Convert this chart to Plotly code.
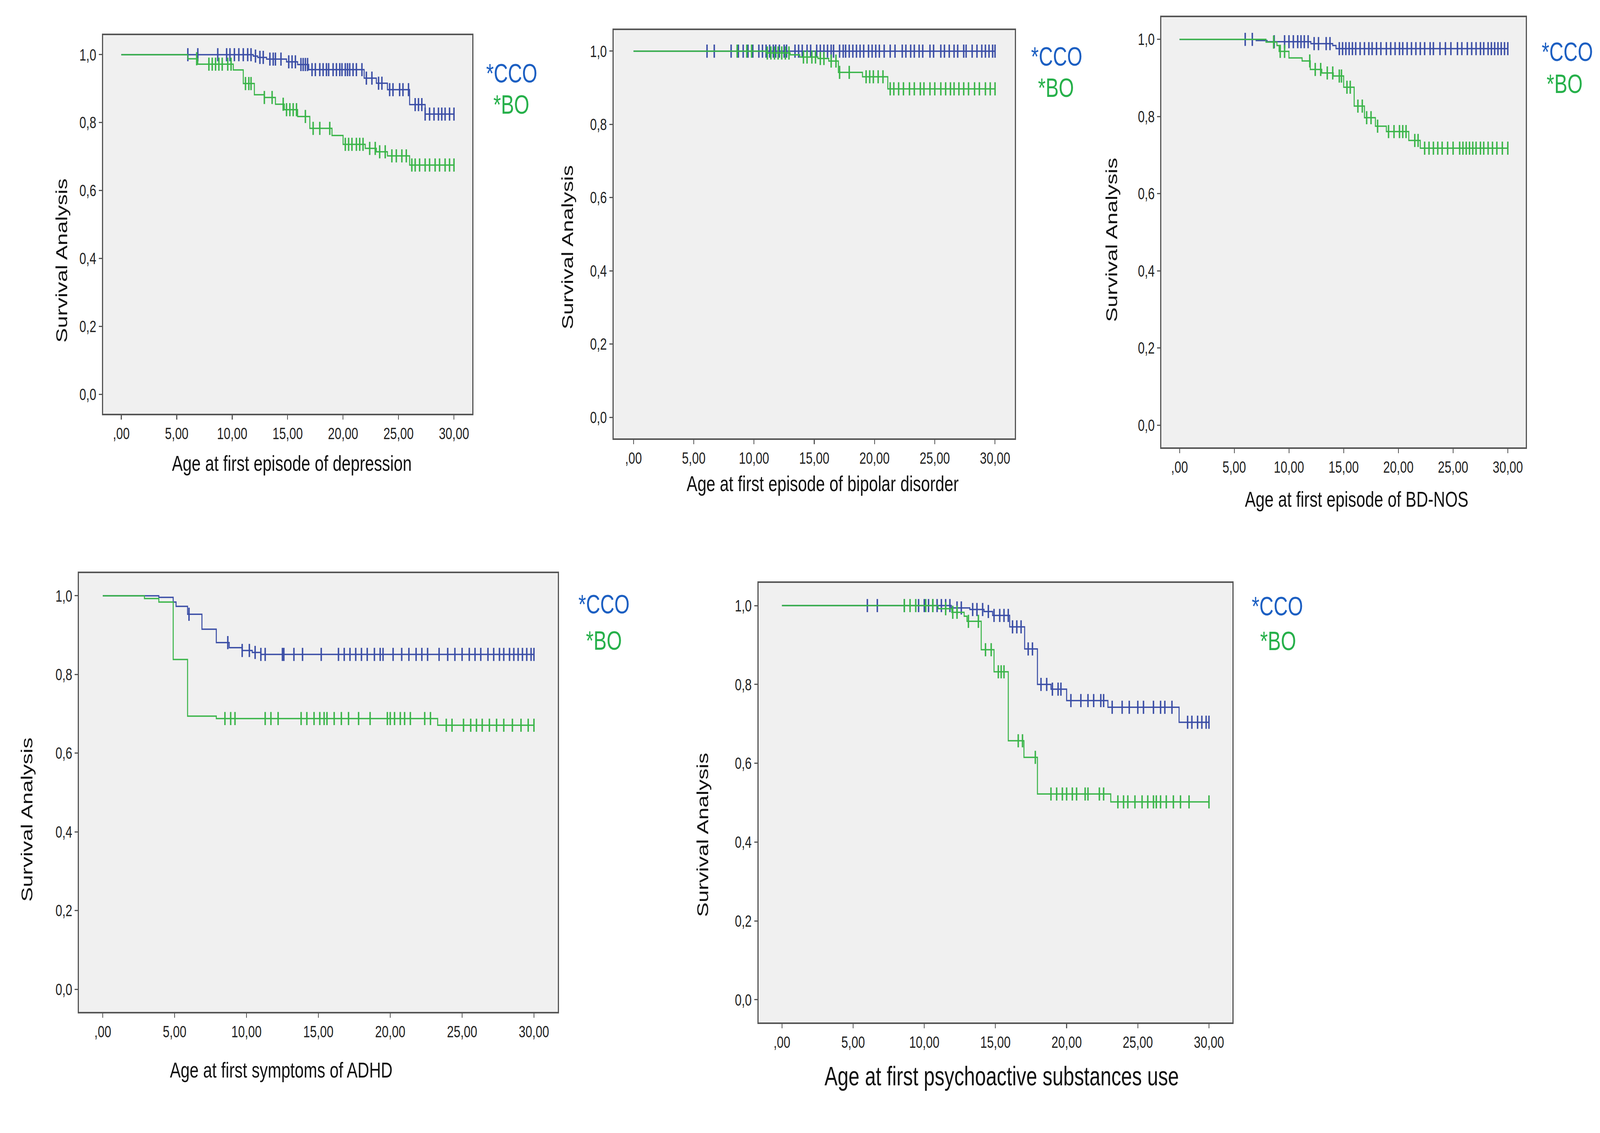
import plotly.graph_objects as go

W, H = 5546, 2900

# ---------------- DATA ----------------
x_tick_vals = [0, 5, 10, 15, 20, 25, 30]
x_tick_text = [",00", "5,00", "10,00", "15,00", "20,00", "25,00", "30,00"]
y_tick_vals = [0.0, 0.2, 0.4, 0.6, 0.8, 1.0]
y_tick_text = ["0,0", "0,2", "0,4", "0,6", "0,8", "1,0"]

x_titles = [
    "Age at first episode of depression",
    "Age at first episode of bipolar disorder",
    "Age at first episode of BD-NOS",
    "Age at first symptoms of ADHD",
    "Age at first psychoactive substances use",
]
y_title = "Survival Analysis"
group_labels = ["*CCO", "*BO"]

# Panel 1: depression
dep_cco_t = [0, 11.9, 12.3, 13.1, 14.9, 15.9, 16.9, 21.9, 23.0, 24.0, 26.0, 27.4, 30]
dep_cco_s = [1.0, 0.996, 0.992, 0.987, 0.979, 0.971, 0.956, 0.931, 0.916, 0.897, 0.853, 0.825, 0.825]
dep_cco_c = [6.0, 6.9, 8.7, 9.5, 9.8, 10.2, 10.6, 11.0, 11.4, 11.7, 12.1, 12.5, 12.8, 13.4, 13.7, 13.9,
             14.4, 15.1, 15.4, 15.7, 16.2, 16.4, 16.6, 16.8, 17.2, 17.5, 17.9, 18.2, 18.5, 18.7, 19.1,
             19.4, 19.7, 19.9, 20.2, 20.4, 20.6, 20.9, 21.2, 21.7, 22.1, 22.6, 23.2, 23.5, 24.2, 24.5,
             25.1, 25.4, 25.9, 26.5, 26.8, 27.1, 27.4, 27.8, 28.2, 28.6, 28.9, 29.2, 29.6, 30.0]
dep_bo_t = [0, 6.0, 6.9, 10.1, 11.0, 12.0, 12.9, 13.9, 14.7, 15.9, 17.0, 19.0, 20.0, 22.0, 23.0, 24.0, 26.0, 30]
dep_bo_s = [1.0, 0.988, 0.972, 0.955, 0.915, 0.882, 0.874, 0.854, 0.838, 0.818, 0.783, 0.762, 0.736,
            0.724, 0.714, 0.702, 0.675, 0.675]
dep_bo_c = [6.8, 7.9, 8.2, 8.5, 8.8, 9.1, 9.6, 9.9, 11.2, 11.5, 11.7, 12.9, 13.6, 14.6, 14.9, 15.2,
            15.5, 15.8, 16.6, 17.3, 17.9, 18.8, 20.2, 20.5, 20.8, 21.2, 21.5, 21.8, 22.4, 22.9, 23.3,
            23.8, 24.4, 24.8, 25.3, 25.7, 26.2, 26.5, 26.9, 27.4, 27.8, 28.3, 28.7, 29.2, 29.6, 30.0]

# Panel 2: bipolar disorder
bip_cco_t = [0, 30]
bip_cco_s = [1.0, 1.0]
bip_cco_c = [6.1, 6.7, 8.1, 8.7, 9.1, 9.5, 9.9, 10.4, 10.7, 11.0, 11.3, 11.6, 11.8, 12.1, 12.5, 12.7,
             13.4, 13.7, 14.0, 14.4, 14.7, 15.2, 15.5, 15.8, 16.1, 16.4, 16.6, 17.1, 17.4, 17.6, 17.9,
             18.2, 18.5, 18.8, 19.1, 19.5, 19.8, 20.1, 20.4, 20.8, 21.3, 21.7, 22.3, 22.6, 23.0, 23.3,
             23.7, 24.0, 24.6, 24.9, 25.5, 25.8, 26.2, 26.6, 26.9, 27.4, 27.6, 28.1, 28.5, 28.9, 29.2,
             29.5, 29.8, 30.0]
bip_bo_t = [0, 11.0, 13.0, 13.8, 15.3, 16.2, 17.0, 19.0, 21.1, 30]
bip_bo_s = [1.0, 0.995, 0.99, 0.984, 0.98, 0.973, 0.942, 0.93, 0.897, 0.897]
bip_bo_c = [8.6, 9.4, 9.8, 11.1, 11.4, 11.7, 12.0, 12.3, 12.6, 12.9, 14.1, 14.4, 14.8, 15.1, 15.5, 15.8,
            16.4, 16.8, 17.1, 17.9, 19.3, 19.6, 19.9, 20.3, 20.7, 21.3, 21.6, 22.0, 22.4, 22.9, 23.3,
            23.8, 24.1, 24.6, 25.0, 25.5, 25.9, 26.3, 26.6, 27.0, 27.4, 27.8, 28.3, 28.7, 29.2, 29.6, 30.0]

# Panel 3: BD-NOS
nos_cco_t = [0, 7.0, 8.0, 12.0, 14.0, 14.3, 30]
nos_cco_s = [1.0, 0.997, 0.994, 0.989, 0.984, 0.976, 0.976]
nos_cco_c = [6.0, 6.65, 8.65, 9.6, 10.0, 10.4, 10.8, 11.1, 11.4, 11.75, 12.3, 12.7, 13.4, 13.75, 14.6,
             14.9, 15.2, 15.5, 15.8, 16.1, 16.5, 16.9, 17.3, 17.6, 18.0, 18.4, 18.9, 19.3, 19.7, 20.1,
             20.4, 20.8, 21.2, 21.6, 22.0, 22.4, 22.9, 23.2, 23.8, 24.3, 24.8, 25.4, 25.8, 26.3, 26.7,
             27.1, 27.5, 27.8, 28.2, 28.5, 28.8, 29.1, 29.4, 29.7, 30.0]
nos_bo_t = [0, 7.9, 8.9, 9.1, 10.0, 11.2, 11.95, 13.0, 14.05, 15.0, 15.96, 16.9, 17.9, 18.9, 20.95, 22.0, 30]
nos_bo_s = [1.0, 0.993, 0.984, 0.969, 0.952, 0.944, 0.922, 0.913, 0.905, 0.876, 0.827, 0.797, 0.775,
            0.761, 0.738, 0.718, 0.718]
nos_bo_c = [8.6, 9.2, 9.6, 11.9, 12.4, 12.9, 13.5, 14.0, 14.6, 14.8, 15.3, 15.6, 16.3, 16.7, 17.1, 17.5,
            18.1, 19.1, 19.6, 20.1, 20.4, 20.7, 21.5, 21.8, 22.4, 22.8, 23.2, 23.6, 24.0, 24.5, 25.0,
            25.6, 25.9, 26.2, 26.5, 26.8, 27.1, 27.5, 27.8, 28.2, 28.6, 29.0, 29.5, 30.0]

# Panel 4: ADHD
adhd_cco_t = [0, 3.9, 4.9, 5.1, 5.9, 6.9, 7.9, 8.8, 9.7, 10.4, 11.0, 30]
adhd_cco_s = [1.0, 0.996, 0.984, 0.973, 0.953, 0.915, 0.881, 0.868, 0.861, 0.856, 0.851, 0.851]
adhd_cco_c = [6.0, 8.7, 9.7, 10.2, 10.6, 11.0, 11.3, 12.5, 12.6, 13.3, 13.9, 15.2, 16.4, 16.8, 17.2,
              17.6, 18.0, 18.4, 18.9, 19.3, 19.5, 20.2, 20.8, 21.3, 21.8, 22.2, 22.6, 23.4, 24.0, 24.5,
              25.0, 25.5, 25.9, 26.3, 26.8, 27.2, 27.6, 27.9, 28.3, 28.6, 28.9, 29.2, 29.5, 29.8, 30.0]
adhd_bo_t = [0, 2.9, 3.9, 4.9, 5.9, 7.9, 23.3, 30]
adhd_bo_s = [1.0, 0.993, 0.984, 0.838, 0.694, 0.688, 0.671, 0.671]
adhd_bo_c = [8.5, 8.9, 9.2, 11.3, 11.7, 12.2, 13.8, 14.2, 14.7, 15.1, 15.4, 15.6, 16.1, 16.6, 17.1, 17.8,
             18.6, 19.8, 20.0, 20.3, 20.7, 21.0, 21.4, 22.4, 22.8, 23.9, 24.3, 25.1, 25.6, 26.0, 26.4,
             26.9, 27.4, 27.9, 28.5, 29.1, 29.6, 30.0]

# Panel 5: psychoactive substances
sub_cco_t = [0, 11.9, 13.2, 14.2, 14.8, 16.0, 17.05, 17.95, 18.9, 20.0, 22.9, 27.9, 30]
sub_cco_s = [1.0, 0.994, 0.99, 0.985, 0.975, 0.946, 0.89, 0.80, 0.788, 0.759, 0.742, 0.704, 0.704]
sub_cco_c = [6.0, 6.7, 8.6, 9.6, 10.0, 10.3, 10.6, 10.9, 11.2, 11.5, 11.8, 12.3, 12.6, 13.4, 13.7, 14.1,
             14.5, 14.9, 15.3, 15.6, 15.9, 16.2, 16.5, 16.8, 17.3, 17.6, 18.2, 18.6, 19.0, 19.4, 19.6,
             20.3, 21.0, 21.5, 21.9, 22.4, 22.6, 23.2, 23.9, 24.4, 25.0, 25.4, 26.1, 26.6, 26.9, 27.4,
             28.5, 28.8, 29.2, 29.5, 29.8, 30.0]
sub_bo_t = [0, 10.97, 11.93, 12.8, 13.0, 14.0, 14.9, 15.9, 17.0, 17.95, 23.1, 30]
sub_bo_s = [1.0, 0.992, 0.983, 0.973, 0.96, 0.888, 0.832, 0.657, 0.615, 0.522, 0.502, 0.502]
sub_bo_c = [8.6, 9.0, 9.4, 10.1, 10.6, 11.5, 12.0, 12.3, 13.1, 13.8, 14.3, 14.7, 15.2, 15.4, 15.6, 16.6,
            16.9, 17.8, 18.9, 19.3, 19.7, 20.0, 20.4, 20.7, 21.3, 21.5, 22.3, 22.6, 23.6, 24.0, 24.3,
            24.8, 25.3, 25.7, 26.1, 26.3, 26.6, 27.0, 27.5, 28.0, 28.6, 30.0]

# ---------------- STYLE / LAYOUT ----------------
BLUE = "#3b4ea6"
GREEN = "#3bb54a"
BLUE_TXT = "#1c5fc2"
GREEN_TXT = "#26b04a"
FONT = "Liberation Sans, Arial, sans-serif"

# box (left, top, right, bottom) in pixels of the 5546x2900 canvas
boxes = [(357, 90, 1637, 1059), (2127, 77, 3518, 1122), (4026, 44, 5289, 1145),
         (274, 1467, 1933, 2590), (2629, 1492, 4272, 2617)]
ytitle_pos = [(213, 667), (1967, 633), (3853, 614), (93, 2098), (2435, 2137)]
xtitle_pos = [(1011, 1185), (2851, 1238), (4702, 1277), (975, 2738), (3472, 2754)]
xtitle_size = [56, 56, 56, 56, 68]
cco_pos = [(1683, 187), (3572, 144), (5342, 132), (2003, 1546), (4337, 1551)]
bo_pos = [(1708, 267), (3596, 224), (5359, 214), (2029, 1639), (4366, 1640)]

series = [
    (dep_cco_t, dep_cco_s, dep_cco_c, dep_bo_t, dep_bo_s, dep_bo_c),
    (bip_cco_t, bip_cco_s, bip_cco_c, bip_bo_t, bip_bo_s, bip_bo_c),
    (nos_cco_t, nos_cco_s, nos_cco_c, nos_bo_t, nos_bo_s, nos_bo_c),
    (adhd_cco_t, adhd_cco_s, adhd_cco_c, adhd_bo_t, adhd_bo_s, adhd_bo_c),
    (sub_cco_t, sub_cco_s, sub_cco_c, sub_bo_t, sub_bo_s, sub_bo_c),
]


def surv_at(t, times, levels):
    val = levels[0]
    for tt, ll in zip(times, levels):
        if tt <= t:
            val = ll
    return val


def px(x):
    return x / W


def py(y):
    return 1 - y / H


fig = go.Figure()
annotations = []

for i, (box, ser) in enumerate(zip(boxes, series), start=1):
    xa = "x" if i == 1 else f"x{i}"
    ya = "y" if i == 1 else f"y{i}"
    ct, cs, cc, bt, bs, bc = ser
    for t, s, c, col in [(ct, cs, cc, BLUE), (bt, bs, bc, GREEN)]:
        fig.add_trace(go.Scatter(x=t, y=s, mode="lines", line=dict(shape="hv", color=col, width=3.5),
                                 xaxis=xa, yaxis=ya, showlegend=False, hoverinfo="skip"))
        fig.add_trace(go.Scatter(x=c, y=[surv_at(v, t, s) for v in c], mode="markers",
                                 marker=dict(symbol="line-ns", size=24, color=col,
                                             line=dict(width=5, color=col)),
                                 xaxis=xa, yaxis=ya, showlegend=False, hoverinfo="skip"))
    l, t_, r, b = box
    axis_common = dict(showline=True, mirror=True, linecolor="#555555", linewidth=4,
                       ticks="outside", ticklen=11, tickwidth=3, tickcolor="#555555",
                       showgrid=False, zeroline=False,
                       tickfont=dict(family=FONT, size=42, color="#222222"))
    fig.layout[f"xaxis{'' if i == 1 else i}"] = dict(
        domain=[px(l), px(r)], range=[-1.65, 31.65], anchor=ya,
        tickmode="array", tickvals=x_tick_vals, ticktext=x_tick_text, **axis_common)
    fig.layout[f"yaxis{'' if i == 1 else i}"] = dict(
        domain=[py(b), py(t_)], range=[-0.0575, 1.0575], anchor=xa,
        tickmode="array", tickvals=y_tick_vals, ticktext=y_tick_text, **axis_common)

    yx, yy = ytitle_pos[i - 1]
    annotations.append(dict(x=px(yx), y=py(yy), xref="paper", yref="paper", text=y_title,
                            textangle=-90, showarrow=False, xanchor="center", yanchor="middle",
                            font=dict(family=FONT, size=56, color="#111111")))
    xx, xy = xtitle_pos[i - 1]
    annotations.append(dict(x=px(xx), y=py(xy), xref="paper", yref="paper", text=x_titles[i - 1],
                            showarrow=False, xanchor="center", yanchor="middle",
                            font=dict(family=FONT, size=xtitle_size[i - 1], color="#111111")))
    cx, cy = cco_pos[i - 1]
    annotations.append(dict(x=px(cx), y=py(cy), xref="paper", yref="paper", text=group_labels[0],
                            showarrow=False, xanchor="left", yanchor="middle",
                            font=dict(family=FONT, size=68, color=BLUE_TXT)))
    bx, by = bo_pos[i - 1]
    annotations.append(dict(x=px(bx), y=py(by), xref="paper", yref="paper", text=group_labels[1],
                            showarrow=False, xanchor="left", yanchor="middle",
                            font=dict(family=FONT, size=68, color=GREEN_TXT)))

fig.update_layout(width=W, height=H, margin=dict(l=0, r=0, t=0, b=0),
                  paper_bgcolor="white", plot_bgcolor="#f0f0f0",
                  annotations=annotations, showlegend=False)

# Map the fixed 5546x2900 canvas exactly onto the browser viewport
# (identity when the viewport is 5546x2900), clipping anything beyond it.
post_js = """
(function(){
  var gd = document.getElementById('{plot_id}');
  var vw = window.innerWidth, vh = window.innerHeight;
  var sx = vw / %d, sy = vh / %d;
  document.documentElement.style.overflow = 'hidden';
  document.documentElement.style.margin = '0';
  document.body.style.margin = '0';
  document.body.style.padding = '0';
  document.body.style.overflow = 'hidden';
  document.body.style.width = vw + 'px';
  document.body.style.height = vh + 'px';
  var wrap = gd.parentElement;
  wrap.style.width = vw + 'px';
  wrap.style.height = vh + 'px';
  wrap.style.overflow = 'hidden';
  wrap.style.position = 'relative';
  gd.style.position = 'absolute';
  gd.style.left = '0px';
  gd.style.top = '0px';
  gd.style.transformOrigin = '0 0';
  gd.style.transform = 'scale(' + sx + ',' + sy + ')';
})();
""" % (W, H)

fig.write_html("out.html", post_script=post_js, config={"displayModeBar": False})
